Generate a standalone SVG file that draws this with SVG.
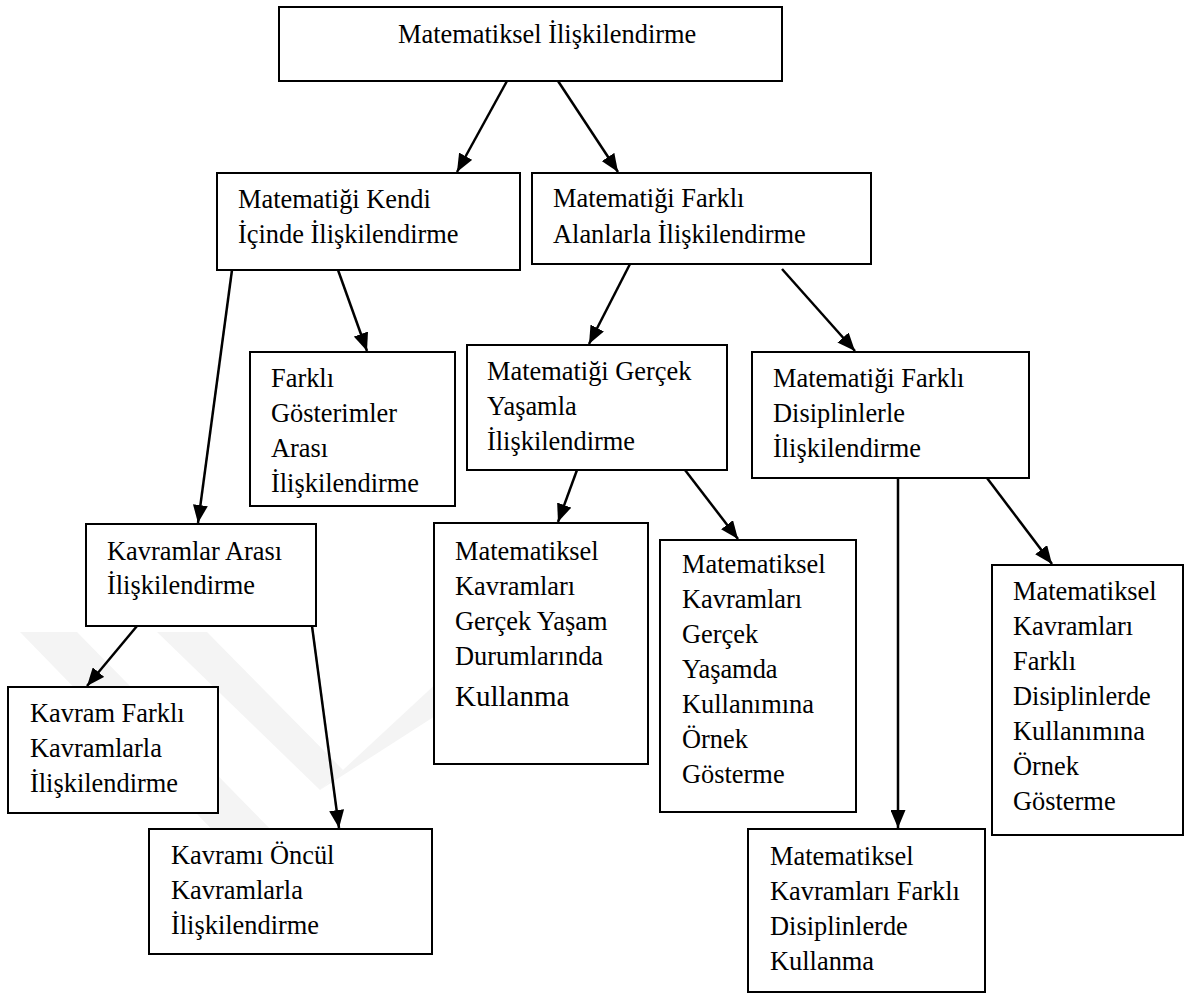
<svg xmlns="http://www.w3.org/2000/svg" width="1185" height="1000" viewBox="0 0 1185 1000">
<style>
.box{fill:#ffffff;stroke:#000000;stroke-width:2}
.t{font-family:"Liberation Serif","Times New Roman",serif;font-size:26.4px;fill:#000000}
.big{font-size:29px}
.c{stroke:#000000;stroke-width:2.5;fill:none;marker-end:url(#ah)}
.wm{fill:#f4f4f4}
</style>
<defs>
<marker id="ah" markerUnits="userSpaceOnUse" markerWidth="18" markerHeight="15" refX="18" refY="7.5" orient="auto" viewBox="0 0 18 15">
<path d="M0,0 L18,7.5 L0,15 z" fill="#000000"/>
</marker>
</defs>
<rect width="1185" height="1000" fill="#ffffff"/>
<g id="watermark">
<polygon class="wm" points="20,632 77,632 330,890 300,920"/>
<polygon class="wm" points="157,632 207,632 343,770 320,790"/>
<polygon class="wm" points="320,790 343,770 440,680 460,700"/>
</g>
<g id="connectors">
<line class="c" x1="507" y1="81" x2="457" y2="172"/>
<line class="c" x1="558" y1="81" x2="618" y2="172"/>
<line class="c" x1="232" y1="270" x2="198" y2="523"/>
<line class="c" x1="338" y1="270" x2="367" y2="351"/>
<line class="c" x1="630" y1="264" x2="589" y2="344"/>
<line class="c" x1="782" y1="269" x2="855" y2="351"/>
<line class="c" x1="577" y1="470" x2="558" y2="522"/>
<line class="c" x1="685" y1="470" x2="738" y2="539"/>
<line class="c" x1="898" y1="478" x2="898" y2="828"/>
<line class="c" x1="987" y1="478" x2="1052" y2="564"/>
<line class="c" x1="137" y1="626" x2="87" y2="686"/>
<line class="c" x1="312" y1="626" x2="339" y2="828"/>
</g>
<g id="n-top">
<rect class="box" x="279" y="7" width="503" height="74"/>
<text class="t" x="398" y="43">Matematiksel İlişkilendirme</text>
</g>
<g id="n-kendi">
<rect class="box" x="217" y="173" width="303" height="97"/>
<text class="t" x="238" y="208">Matematiği Kendi</text>
<text class="t" x="238" y="243">İçinde İlişkilendirme</text>
</g>
<g id="n-alanlar">
<rect class="box" x="532" y="173" width="339" height="91"/>
<text class="t" x="553" y="207">Matematiği Farklı</text>
<text class="t" x="553" y="243">Alanlarla İlişkilendirme</text>
</g>
<g id="n-gosterimler">
<rect class="box" x="250" y="352" width="205" height="154"/>
<text class="t" x="271" y="387">Farklı</text>
<text class="t" x="271" y="422">Gösterimler</text>
<text class="t" x="271" y="457">Arası</text>
<text class="t" x="271" y="492">İlişkilendirme</text>
</g>
<g id="n-gercek">
<rect class="box" x="467" y="345" width="260" height="125"/>
<text class="t" x="487" y="380">Matematiği Gerçek</text>
<text class="t" x="487" y="415">Yaşamla</text>
<text class="t" x="487" y="450">İlişkilendirme</text>
</g>
<g id="n-disiplin">
<rect class="box" x="752" y="352" width="277" height="126"/>
<text class="t" x="773" y="387">Matematiği Farklı</text>
<text class="t" x="773" y="422">Disiplinlerle</text>
<text class="t" x="773" y="457">İlişkilendirme</text>
</g>
<g id="n-kavramlar">
<rect class="box" x="86" y="524" width="230" height="102"/>
<text class="t" x="107" y="560">Kavramlar Arası</text>
<text class="t" x="107" y="594">İlişkilendirme</text>
</g>
<g id="n-durum">
<rect class="box" x="434" y="523" width="214" height="241"/>
<text class="t" x="455" y="560">Matematiksel</text>
<text class="t" x="455" y="595">Kavramları</text>
<text class="t" x="455" y="630">Gerçek Yaşam</text>
<text class="t" x="455" y="665">Durumlarında</text>
<text class="t big" x="455" y="706">Kullanma</text>
</g>
<g id="n-ornek-gercek">
<rect class="box" x="660" y="540" width="196" height="272"/>
<text class="t" x="682" y="573">Matematiksel</text>
<text class="t" x="682" y="608">Kavramları</text>
<text class="t" x="682" y="643">Gerçek</text>
<text class="t" x="682" y="678">Yaşamda</text>
<text class="t" x="682" y="713">Kullanımına</text>
<text class="t" x="682" y="748">Örnek</text>
<text class="t" x="682" y="783">Gösterme</text>
</g>
<g id="n-ornek-disiplin">
<rect class="box" x="992" y="565" width="191" height="270"/>
<text class="t" x="1013" y="600">Matematiksel</text>
<text class="t" x="1013" y="635">Kavramları</text>
<text class="t" x="1013" y="670">Farklı</text>
<text class="t" x="1013" y="705">Disiplinlerde</text>
<text class="t" x="1013" y="740">Kullanımına</text>
<text class="t" x="1013" y="775">Örnek</text>
<text class="t" x="1013" y="810">Gösterme</text>
</g>
<g id="n-kavram-farkli">
<rect class="box" x="8" y="687" width="210" height="126"/>
<text class="t" x="30" y="722">Kavram Farklı</text>
<text class="t" x="30" y="757">Kavramlarla</text>
<text class="t" x="30" y="792">İlişkilendirme</text>
</g>
<g id="n-oncul">
<rect class="box" x="149" y="829" width="283" height="125"/>
<text class="t" x="171" y="864">Kavramı Öncül</text>
<text class="t" x="171" y="899">Kavramlarla</text>
<text class="t" x="171" y="934">İlişkilendirme</text>
</g>
<g id="n-kullanma-disiplin">
<rect class="box" x="748" y="829" width="237" height="163"/>
<text class="t" x="770" y="865">Matematiksel</text>
<text class="t" x="770" y="900">Kavramları Farklı</text>
<text class="t" x="770" y="935">Disiplinlerde</text>
<text class="t" x="770" y="970">Kullanma</text>
</g>
</svg>
